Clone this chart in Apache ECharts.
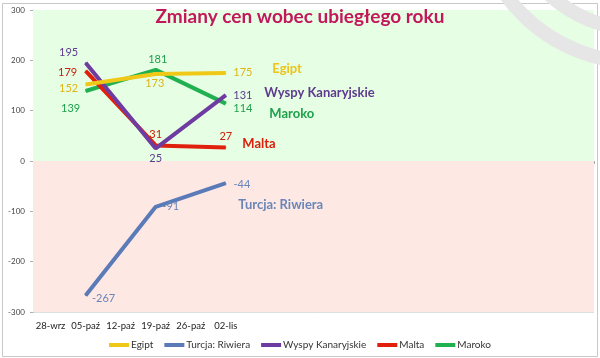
<!DOCTYPE html>
<html>
<head>
<meta charset="utf-8">
<script src="https://cdn.jsdelivr.net/npm/echarts@6/dist/echarts.min.js"></script>
<style>
html,body{margin:0;padding:0;background:#fff;}
#chart{width:600px;height:358px;}
</style>
</head>
<body>
<div id="chart"></div>
<script>
// ---- data ----
var categories = ['28-wrz','05-paź','12-paź','19-paź','26-paź','02-lis','','','','','','','','','',''];
var pointDates = ['05-paź','19-paź','02-lis'];
var seriesNames = ['Egipt','Turcja: Riwiera','Wyspy Kanaryjskie','Malta','Maroko'];
var egipt = [152, 173, 175];
var turcja = [-267, -91, -44];
var wyspy = [195, 25, 131];
var malta = [179, 31, 27];
var maroko = [139, 181, 114];
var yTicks = {min: -300, max: 300, interval: 100};

// ---- styles ----
var lineColors = ['#f0c818','#5a7ab8','#6e3ca0','#e0200c','#20b050'];
var labelColors = ['#dcb414','#6a86b8','#5e3a8e','#c8200c','#1ea04c'];
var nameColors = ['#ecc41c','#6a86b8','#5e3a8e','#d8200c','#1ea04c'];
var valueOffsets = [
  [[-17,4],[-1,10],[17,0]],
  [[18,3],[15,0],[16,1]],
  [[-17,-10],[0,10],[17,0]],
  [[-18,2],[0,-11],[0,-11]],
  [[-15,17],[2,-10],[17,5]]
];
var nameOffsets = [[46,-4.5],[12,22],[38,-2.5],[16,-3.5],[43,10]];
var values = [egipt, turcja, wyspy, malta, maroko];
var FONT = 'Lato, "Open Sans", sans-serif';

var series = seriesNames.map(function(name, s){
  var vals = values[s];
  var data = vals.map(function(v, i){
    return {
      value: [pointDates[i], v],
      label: {show: true, position: 'inside', offset: valueOffsets[s][i]}
    };
  });
  var last = vals.length - 1;
  var ser = {
    name: name,
    type: 'line',
    xAxisIndex: 0,
    data: data,
    symbol: 'circle',
    symbolSize: 1,
    z: 10 - s,
    lineStyle: {color: lineColors[s], width: 4},
    itemStyle: {color: lineColors[s]},
    label: {color: labelColors[s], fontSize: 11, fontFamily: FONT,
            formatter: function(p){ return p.value[1]; }},
    emphasis: {disabled: true},
    animation: false,
    markPoint: {
      symbol: 'circle', symbolSize: 1,
      itemStyle: {color: 'rgba(0,0,0,0)'},
      data: [{coord: [pointDates[last], vals[last]], value: name}],
      label: {show: true, position: 'right', distance: 0, offset: nameOffsets[s],
              formatter: name, color: nameColors[s], fontSize: 13, fontWeight: 'bold',
              fontFamily: FONT}
    }
  };
  if (s === 0) {
    ser.markArea = {
      silent: true,
      data: [
        [{yAxis: 0, itemStyle: {color: '#e6ffe4', opacity: 1}}, {yAxis: yTicks.max}],
        [{yAxis: yTicks.min, itemStyle: {color: '#fee8e4', opacity: 1}}, {yAxis: 0}]
      ]
    };
  }
  return ser;
});

var chart = echarts.init(document.getElementById('chart'), null, {renderer: 'canvas'});
chart.setOption({
  animation: false,
  backgroundColor: '#ffffff',
  title: {
    text: 'Zmiany cen wobec ubiegłego roku',
    left: 'center', top: 2,
    textStyle: {color: '#c2185b', fontSize: 19, fontWeight: 'bold', fontFamily: FONT}
  },
  grid: {left: 33, right: 6, top: 10, bottom: 46},
  legend: {
    bottom: 3, left: 'center',
    icon: 'rect', itemWidth: 20, itemHeight: 4, itemGap: 11,
    data: seriesNames,
    textStyle: {fontSize: 10, color: '#333', fontFamily: FONT, padding: [0,0,0,-3]}
  },
  xAxis: [
    {
      type: 'category', data: categories, position: 'bottom',
      axisLine: {show: false, onZero: false},
      axisTick: {show: false},
      axisLabel: {interval: 0, fontSize: 9.5, color: '#222', fontFamily: FONT, margin: 9},
      splitLine: {show: false}
    },
    {
      type: 'category', data: categories, position: 'bottom',
      axisLine: {show: true, onZero: true, lineStyle: {color: '#a8a8a8', width: 1.2}},
      axisTick: {show: true, interval: 0, length: 3, lineStyle: {color: '#a8a8a8'}},
      axisLabel: {show: false},
      splitLine: {show: false}
    }
  ],
  yAxis: {
    type: 'value', min: yTicks.min, max: yTicks.max, interval: yTicks.interval,
    axisLine: {show: true, lineStyle: {color: '#b0b0b0'}},
    axisTick: {show: true, length: 3, lineStyle: {color: '#b0b0b0'}},
    axisLabel: {fontSize: 8, color: '#444', fontFamily: FONT, margin: 8},
    splitLine: {show: true, lineStyle: {color: 'rgba(150,170,150,0.35)', width: 1}}
  },
  graphic: [
    {type: 'rect', z: 100, silent: true,
     shape: {x: 2.5, y: 3.5, width: 595, height: 353},
     style: {fill: null, stroke: '#c8c8c8', lineWidth: 1}},
    {type: 'circle', z: 101, silent: true,
     shape: {cx: 637, cy: -100, r: 162},
     style: {fill: null, stroke: '#e6e6e6', lineWidth: 14}},
    {type: 'circle', z: 101, silent: true,
     shape: {cx: 637, cy: -100, r: 129},
     style: {fill: null, stroke: '#e6e6e6', lineWidth: 14}}
  ],
  series: series
});
</script>
</body>
</html>
